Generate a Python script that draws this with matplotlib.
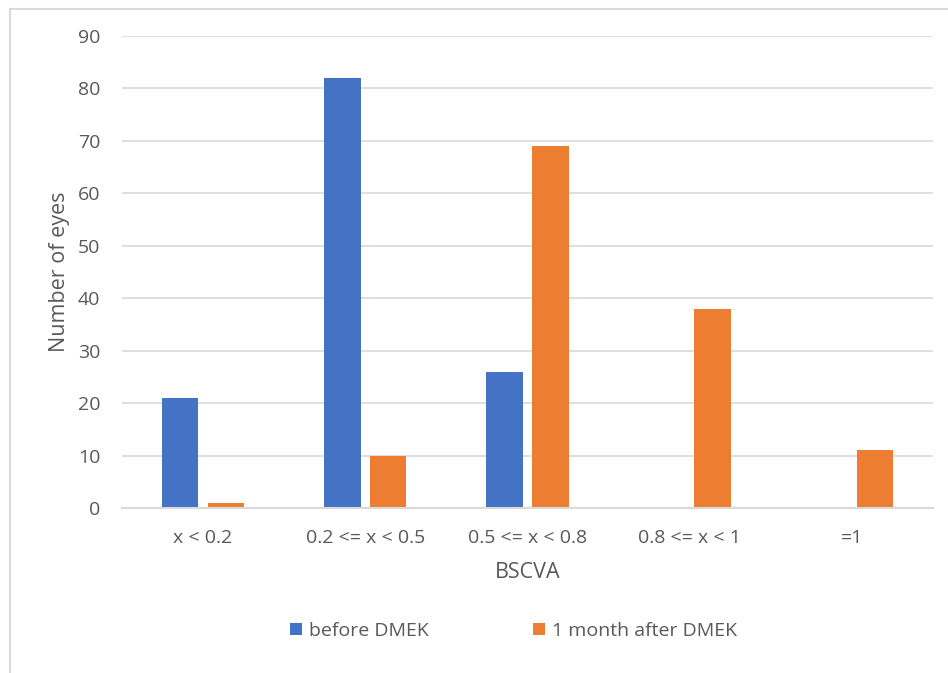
import matplotlib
matplotlib.use("Agg")
import matplotlib.pyplot as plt
from matplotlib.patches import Rectangle
import numpy as np

categories = ["x < 0.2", "0.2 <= x < 0.5", "0.5 <= x < 0.8", "0.8 <= x < 1", "=1"]
before_dmek = [21, 82, 26, 0, 0]
after_dmek = [1, 10, 69, 38, 11]
series_labels = ["before DMEK", "1 month after DMEK"]

plt.rcParams['font.family'] = ['Open Sans', 'DejaVu Sans']
text_color = '#595959'
grid_color = '#d9d9d9'

fig = plt.figure(figsize=(9.48, 6.73), dpi=100)
axe = fig.add_axes([0.1287, 0.2452, 0.8555, 0.7013])

# outer chart border (only top/left visible in the reference)
fig.patches.append(Rectangle((10 / 948, -0.05), 1.1, 1 - 9 / 673 + 0.05,
                             transform=fig.transFigure, fill=False,
                             edgecolor='#d9d9d9', linewidth=1.5))

x = np.arange(len(categories))
width = 0.225
offset = 0.141
axe.bar(x - offset, before_dmek, width, color='#4472C4', label=series_labels[0])
axe.bar(x + offset, after_dmek, width, color='#ED7D31', label=series_labels[1])

axe.set_xlim(-0.5, len(categories) - 0.5)
axe.set_ylim(0, 90)
axe.set_yticks(range(0, 91, 10))
axe.set_xticks(x)
axe.set_xticklabels(categories)
axe.yaxis.grid(True, color=grid_color, linewidth=1.2)
axe.set_axisbelow(True)
for side in ['top', 'right', 'left']:
    axe.spines[side].set_visible(False)
axe.spines['bottom'].set_color(grid_color)
axe.spines['bottom'].set_linewidth(1.5)
axe.tick_params(axis='both', length=0, labelsize=14, colors=text_color)
axe.tick_params(axis='y', pad=15.5)
axe.tick_params(axis='x', pad=15)

axe.set_xlabel('BSCVA', fontsize=15.5, color=text_color, labelpad=11)
axe.set_ylabel('Number of eyes', fontsize=15.5, color=text_color, labelpad=6)

axe.legend(loc='center', bbox_to_anchor=(0.4827, -0.2606), ncol=2, frameon=False,
           fontsize=14, labelcolor=text_color, handlelength=0.62, handleheight=0.62,
           columnspacing=5.35, handletextpad=0.36)

fig.savefig('out.png', dpi=100)
plt.close()
